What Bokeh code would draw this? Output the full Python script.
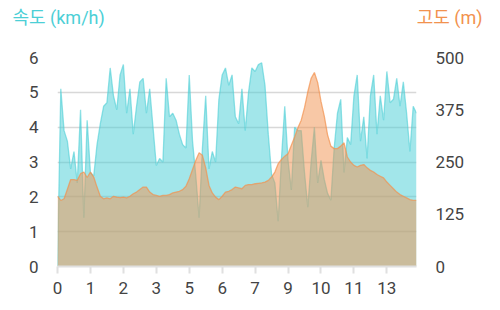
from bokeh.plotting import figure
from bokeh.layouts import column
from bokeh.models import Range1d, LinearAxis, FixedTicker
from bokeh.core.properties import value
from bokeh.embed import file_html
from bokeh.resources import INLINE

# speed (km/h), one value per sample
speed = [0.0, 5.1, 3.9, 3.6, 2.8, 3.3, 2.4, 4.5, 1.4, 4.2,
         2.7, 2.6, 3.5, 4.1, 4.6, 4.7, 5.7, 4.9, 4.5, 5.5,
         5.8, 4.4, 5.1, 3.8, 4.6, 5.3, 5.4, 4.4, 5.1, 4.0,
         2.9, 3.1, 3.0, 5.4, 4.3, 4.4, 4.2, 3.8, 3.5, 3.4,
         5.5, 3.6, 2.6, 1.4, 3.4, 4.9, 2.8, 3.3, 3.0, 4.8,
         5.5, 5.7, 5.2, 5.5, 4.3, 4.1, 5.1, 3.9, 5.0, 5.7,
         5.6, 5.8, 5.85, 5.2, 3.8, 2.65, 2.4, 1.3, 3.1, 4.6,
         3.05, 2.2, 4.0, 3.9, 3.9, 2.7, 1.7, 3.0, 4.0, 2.4,
         3.05, 2.5, 2.1, 1.9, 3.4, 4.4, 4.8, 2.7, 3.7, 3.5,
         4.9, 5.5, 3.6, 4.3, 3.1, 4.9, 5.5, 3.8, 4.9, 4.2,
         5.6, 4.7, 4.8, 5.4, 4.6, 5.3, 4.4, 3.3, 4.6, 4.4]

# altitude (m)
altitude = [168, 158, 162, 185, 208, 208, 206, 222, 226, 213,
            226, 214, 190, 168, 162, 164, 162, 168, 166, 165,
            166, 164, 168, 174, 178, 184, 190, 190, 178, 172,
            170, 168, 170, 170, 172, 176, 178, 180, 184, 192,
            210, 232, 254, 272, 266, 236, 194, 176, 166, 160,
            168, 178, 180, 184, 190, 188, 186, 194, 196, 196,
            198, 199, 200, 202, 206, 214, 226, 246, 256, 264,
            270, 290, 310, 332, 350, 380, 418, 450, 464, 440,
            395, 360, 315, 288, 282, 282, 288, 296, 262, 250,
            242, 238, 242, 244, 236, 230, 226, 220, 216, 212,
            202, 194, 186, 178, 172, 168, 164, 160, 158, 158]

x_tick_labels = ["0", "1", "2", "3", "5", "6", "7", "9", "10", "11", "13"]
speed_ticks = [0, 1, 2, 3, 4, 5, 6]
alt_ticks = [0, 125, 250, 375, 500]
speed_title = "속도 (km/h)"
alt_title = "고도 (m)"

idx = list(range(len(speed)))
tick_pos = [i * 10 for i in range(len(x_tick_labels))]

TEAL = "#4ccfd6"
ORANGE = "#f2924e"
FONT = "Roboto, Noto Sans CJK KR"

# header with the two series titles
h = figure(width=500, height=40, output_backend="svg", toolbar_location=None,
           x_range=Range1d(0, 500), y_range=Range1d(0, 40),
           min_border=0)
h.frame_align = False
h.axis.visible = False
h.grid.visible = False
h.outline_line_color = None
h.text(x=[12], y=[23], text=[speed_title], text_color=TEAL,
       text_font=value(FONT), text_font_size="18px",
       text_baseline="middle", text_align="left")
h.text(x=[482], y=[23], text=[alt_title], text_color=ORANGE,
       text_font=value(FONT), text_font_size="18px",
       text_baseline="middle", text_align="right")

p = figure(width=500, height=270, output_backend="svg", toolbar_location=None,
           x_range=Range1d(0, len(speed) - 1), y_range=Range1d(0, 6),
           min_border_left=57, min_border_right=84, min_border_top=17,
           min_border_bottom=44)
p.frame_align = False
p.outline_line_color = None
p.background_fill_color = "white"
p.extra_y_ranges = {"alt": Range1d(0, 500)}

p.varea(x=idx, y1=0, y2=speed, fill_color=TEAL, fill_alpha=0.52)
p.line(x=idx, y=speed, line_color=TEAL, line_alpha=0.6, line_width=1.3)
p.varea(x=idx, y1=0, y2=altitude, fill_color=ORANGE, fill_alpha=0.5,
        y_range_name="alt")
p.line(x=idx, y=altitude, line_color=ORANGE, line_alpha=0.7, line_width=1.3,
       y_range_name="alt")

p.xgrid.visible = False
p.ygrid.ticker = FixedTicker(ticks=speed_ticks)
p.ygrid.grid_line_color = "#d8d8d8"
p.ygrid.grid_line_width = 1.5

# bottom axis
xa = p.xaxis[0]
xa.ticker = FixedTicker(ticks=tick_pos)
xa.major_label_overrides = {t: l for t, l in zip(tick_pos, x_tick_labels)}
xa.axis_line_color = "#e0e0e0"
xa.axis_line_width = 2
xa.major_tick_line_color = "#e0e0e0"
xa.major_tick_line_width = 2
xa.major_tick_in = 0
xa.major_tick_out = 7
xa.minor_tick_line_color = None
xa.major_label_standoff = 8
xa.major_label_text_font = FONT
xa.major_label_text_font_size = "17px"
xa.major_label_text_color = "#444444"

# left axis
ya = p.yaxis[0]
ya.ticker = FixedTicker(ticks=speed_ticks)
ya.axis_line_color = None
ya.major_tick_line_color = None
ya.minor_tick_line_color = None
ya.major_label_standoff = 13
ya.major_label_text_font = FONT
ya.major_label_text_font_size = "17px"
ya.major_label_text_color = "#444444"

# right axis
ra = LinearAxis(y_range_name="alt", ticker=FixedTicker(ticks=alt_ticks))
ra.axis_line_color = None
ra.major_tick_line_color = None
ra.minor_tick_line_color = None
ra.major_label_standoff = 13
ra.major_label_text_font = FONT
ra.major_label_text_font_size = "17px"
ra.major_label_text_color = "#444444"
p.add_layout(ra, "right")

layout = column(h, p, spacing=0)
open("out.html", "w").write(file_html(layout, INLINE))
